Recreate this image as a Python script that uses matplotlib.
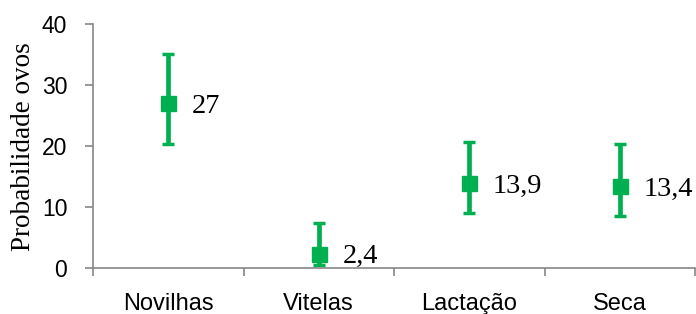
import numpy as np
import matplotlib.pyplot as plt

categories = ['Novilhas', 'Vitelas', 'Lactação', 'Seca']
values = [27, 2.4, 13.9, 13.4]
lower = [20.3, 0.6, 9.1, 8.6]
upper = [35.1, 7.4, 20.7, 20.3]
value_labels = ['27', '2,4', '13,9', '13,4']

green = '#00B050'
grey = '#868686'

fig = plt.figure(figsize=(6.96, 3.14), dpi=100)
ax = fig.add_axes([93/696, 1 - 268.3/314, 602/696, (268.3 - 24)/314])

x = np.arange(len(categories))
vals = np.array(values)
yerr = np.array([vals - np.array(lower), np.array(upper) - vals])

ax.errorbar(x, vals, yerr=yerr, fmt='s', color=green, ecolor=green,
            markersize=10.8, elinewidth=3.4, capsize=4.3, capthick=2.5)

for xi, v, lab in zip(x, values, value_labels):
    ax.annotate(lab, (xi, v), xytext=(17, -2), textcoords='offset points',
                va='center', ha='left', fontsize=20.5,
                family='Liberation Serif', color='black')

ax.set_xlim(-0.5, 3.5)
ax.set_ylim(0, 40)
ax.set_yticks([0, 10, 20, 30, 40])

# category boundaries as major ticks, labels on minor ticks
ax.set_xticks(np.arange(-0.5, 4.0, 1.0))
ax.set_xticklabels([])
ax.set_xticks(x, minor=True)
ax.set_xticklabels(categories, minor=True, family='Liberation Sans', fontsize=17)
ax.tick_params(axis='x', which='minor', length=0, pad=18)
ax.tick_params(axis='x', which='major', length=5.5, color=grey, width=1.2)
ax.tick_params(axis='y', length=5.5, color=grey, width=1.2, pad=13, labelsize=16.5)
for t in ax.get_yticklabels():
    t.set_family('Liberation Sans')

for s in ['top', 'right']:
    ax.spines[s].set_visible(False)
for s in ['left', 'bottom']:
    ax.spines[s].set_color(grey)
    ax.spines[s].set_linewidth(1.2)

ax.set_ylabel('Probabilidade ovos', family='Liberation Serif', fontsize=19.5, va='center')
ax.yaxis.set_label_coords(-0.116, 0.5)

fig.savefig('out.png', dpi=100)
